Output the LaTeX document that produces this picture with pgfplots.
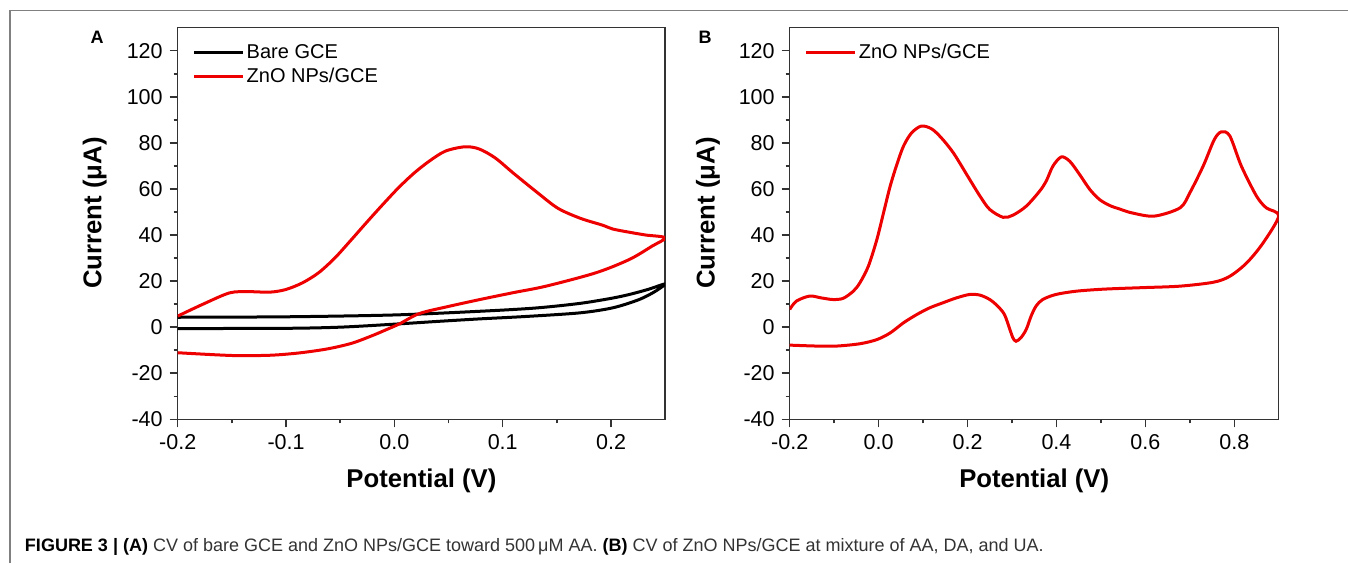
\documentclass[border=0pt]{standalone}
\usepackage{fontspec}
\setmainfont{Liberation Sans}
\usepackage{pgfplots}
\pgfplotsset{compat=1.18}
\definecolor{cvred}{HTML}{EE0000}
\definecolor{axgray}{HTML}{333333}
\definecolor{framegray}{HTML}{808080}
\definecolor{capgray}{HTML}{333333}
\pgfplotsset{
  cvaxis/.style={
    scale only axis, height=195.8pt,
    ymin=-40, ymax=130, ytick={-40,-20,...,120}, minor y tick num=1,
    tick align=outside, xtick pos=bottom, ytick pos=left,
    major tick length=4pt, minor tick length=2pt,
    axis line style={axgray, line width=0.75pt},
    every tick/.style={axgray, line width=0.75pt},
    tick label style={font=\fontsize{10.75}{12}\selectfont, text=black},
    /pgf/number format/assume math mode=true,
    xticklabel style={/pgf/number format/.cd, fixed, fixed zerofill, precision=1},
    yticklabel style={/pgf/number format/.cd, fixed, precision=0},
    label style={font=\bfseries\fontsize{12.85}{14}\selectfont},
    xlabel={Potential (V)}, ylabel={Current (μA)},
    xlabel style={at={(axis description cs:0.5,-0.1576)}, anchor=center},
    legend style={draw=none, fill=none, font=\fontsize{10}{12}\selectfont,
      anchor=north west, inner sep=0pt, row sep=1.5pt,
      nodes={inner sep=1pt}},
    legend cell align=left,
    legend image code/.code={\draw[#1] (0pt,0pt) -- (24.5pt,0pt);},
    every axis plot/.append style={line width=1.5pt, smooth, tension=0.5},
  }
}
\begin{document}
\begin{tikzpicture}
\useasboundingbox (0,0) rectangle (674pt,281.5pt);
\draw[framegray, line width=0.75pt] (4.9pt,0pt) -- (4.9pt,276.15pt) -- (674pt,276.15pt);

\begin{axis}[cvaxis, at={(88.85pt,71.85pt)}, anchor=south west, width=243.75pt,
  xmin=-0.2, xmax=0.25, xtick={-0.2,-0.1,...,0.21}, minor x tick num=1,
  ylabel style={at={(axis description cs:-0.170,0.527)}, anchor=center},
  legend style={at={(axis description cs:0.030,0.964)}}]
\addplot[black] coordinates {
(-0.2,4.3) (-0.1,4.5) (0.0,5.3) (0.079,6.9) (0.13,8.3) (0.171,10.3) (0.2,12.5) (0.217,14.2) (0.235,16.5) (0.25,18.8)
(0.241,15.6) (0.226,12.0) (0.2016,8.4) (0.171,6.2) (0.12,4.6) (0.079,3.6) (0.04,2.5) (0.0,1.3) (-0.05,0.0) (-0.1,-0.5) (-0.2,-0.6)
};
\addlegendentry{Bare GCE}
\addplot[cvred] coordinates {
(-0.2,4.8) (-0.177,9.9) (-0.152,14.9) (-0.134,15.4) (-0.115,15.2) (-0.1005,16.3) (-0.085,19.2) (-0.070,23.6) (-0.055,30.0) (-0.040,37.8) (-0.025,45.8) (-0.010,53.6) (0.004,60.6) (0.018,66.8) (0.032,72.0) (0.047,76.4) (0.065,78.3) (0.078,77.4) (0.093,73.5) (0.110,66.8) (0.131,58.8) (0.151,51.6) (0.172,47.2) (0.192,44.3) (0.2016,42.6) (0.217,41.2) (0.232,40.0) (0.25,38.8)
(0.238,35.2) (0.217,29.4) (0.186,23.6) (0.140,17.8) (0.110,15.0) (0.079,12.0) (0.050,9.0) (0.023,5.9) (0.005,1.5) (-0.007,-1.0) (-0.020,-3.6) (-0.038,-6.8) (-0.055,-8.8) (-0.069,-10.0) (-0.090,-11.3) (-0.115,-12.2) (-0.150,-12.3) (-0.2,-11.1)
};
\addlegendentry{ZnO NPs/GCE}
\end{axis}

\begin{axis}[cvaxis, at={(394.85pt,71.85pt)}, anchor=south west, width=244.5pt,
  xmin=-0.2, xmax=0.9, xtick={-0.2,0,...,0.81}, minor x tick num=1,
  ylabel style={at={(axis description cs:-0.167,0.527)}, anchor=center},
  legend style={at={(axis description cs:0.030,0.964)}}]
\addplot[cvred] coordinates {
(-0.2,7.7) (-0.185,11.3) (-0.155,13.5) (-0.129,12.7) (-0.103,12.0) (-0.080,12.5) (-0.057,15.6) (-0.042,19.3) (-0.023,26.5) (-0.004,38.0) (0.011,49.6) (0.026,61.2) (0.041,70.6) (0.056,78.6) (0.074,84.3) (0.096,87.3) (0.119,86.1) (0.141,82.2) (0.168,75.7) (0.198,66.3) (0.228,56.9) (0.250,51.1) (0.280,47.7) (0.302,48.6) (0.332,52.5) (0.362,59.0) (0.377,63.4) (0.392,69.9) (0.411,73.9) (0.430,72.0) (0.452,66.3) (0.475,59.8) (0.497,55.4) (0.520,52.8) (0.542,51.3) (0.570,49.6) (0.620,48.2) (0.678,51.8) (0.700,58.3) (0.730,69.9) (0.755,81.4) (0.771,84.8) (0.790,83.0) (0.816,69.9) (0.850,56.9) (0.872,51.8) (0.9,48.3)
(0.865,36.6) (0.828,27.9) (0.790,22.1) (0.753,19.5) (0.678,17.8) (0.6,17.2) (0.542,16.8) (0.497,16.4) (0.444,15.6) (0.399,14.2) (0.369,12.0) (0.354,9.1) (0.343,4.8) (0.332,-1.0) (0.320,-4.6) (0.309,-6.1) (0.302,-4.6) (0.294,-0.3) (0.283,5.5) (0.268,9.1) (0.250,12.0) (0.228,13.9) (0.205,14.2) (0.175,12.7) (0.145,10.6) (0.115,8.4) (0.086,5.5) (0.056,1.9) (0.026,-2.5) (-0.004,-5.4) (-0.042,-7.2) (-0.094,-8.2) (-0.140,-8.2) (-0.2,-7.8)
};
\addlegendentry{ZnO NPs/GCE}
\end{axis}

\node[font=\bfseries\fontsize{9}{10}\selectfont] at (48.5pt,262.75pt) {A};
\node[font=\bfseries\fontsize{9}{10}\selectfont] at (352.5pt,262.75pt) {B};
\node[anchor=base west, inner sep=0pt, font=\fontsize{9}{10}\selectfont, text=capgray] at (12.3pt,6pt)
  {\textbf{\color{black}FIGURE 3 | (A)} CV of bare GCE and ZnO NPs/GCE toward 500\,μM AA. \textbf{\color{black}(B)} CV of ZnO NPs/GCE at mixture of AA, DA, and UA.};
\end{tikzpicture}
\end{document}
